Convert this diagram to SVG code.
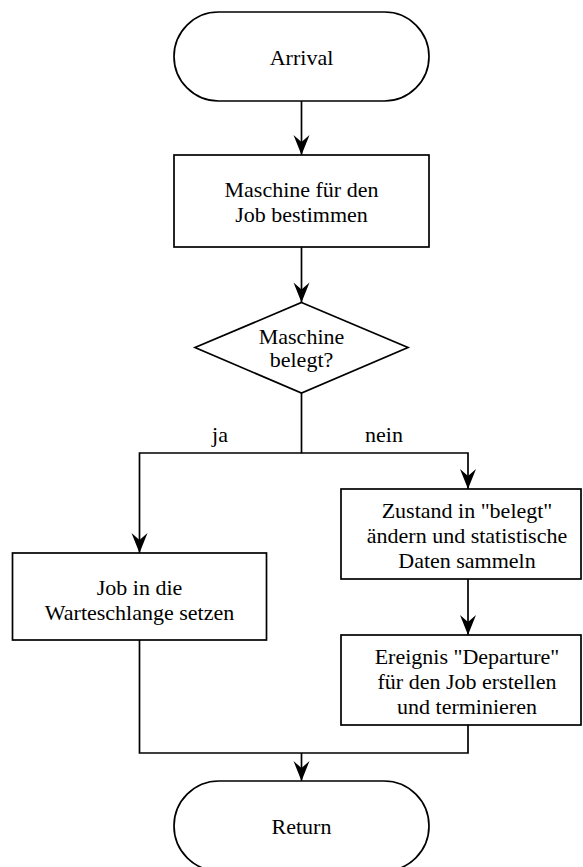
<svg xmlns="http://www.w3.org/2000/svg" width="583" height="867" viewBox="0 0 583 867">
  <style>
    .shape { fill: #ffffff; stroke: #000000; stroke-width: 1.7; }
    .edge { fill: none; stroke: #000000; stroke-width: 1.7; }
    .lbl { font-family: 'Liberation Serif', 'DejaVu Serif', serif; font-size: 22px; fill: #000000; text-anchor: middle; }
  </style>
  <defs>
    <!-- filled, notched arrowhead for all connectors -->
    <marker id="arrow" viewBox="-21 -9 22 18" refX="0" refY="0" markerWidth="22" markerHeight="18" markerUnits="userSpaceOnUse" orient="auto">
      <path d="M0,0 L-20,-8 L-13,0 L-20,8 Z" fill="#000000" stroke="none"/>
    </marker>
  </defs>
  <rect width="583" height="867" fill="#ffffff"/>

  <!-- connectors -->
  <g id="connectors">
    <path class="edge" d="M301.5,101 V155" marker-end="url(#arrow)"/>
    <path class="edge" d="M301.5,247 V302.5" marker-end="url(#arrow)"/>
    <path class="edge" d="M301.5,393 V453 H139.5 V553" marker-end="url(#arrow)"/>
    <path class="edge" d="M301.5,453 H468 V489" marker-end="url(#arrow)"/>
    <path class="edge" d="M468,579 V635" marker-end="url(#arrow)"/>
    <path class="edge" d="M139.5,640 V753 H468 V725"/>
    <path class="edge" d="M301.5,753 V781" marker-end="url(#arrow)"/>
    <g class="lbl" font-family="Liberation Serif, DejaVu Serif, serif">
      <text x="220" y="442">ja</text>
      <text x="384" y="442">nein</text>
    </g>
  </g>

  <g class="lbl" font-family="Liberation Serif, DejaVu Serif, serif">
    <g id="arrival">
      <rect class="shape" x="174" y="12" width="255" height="89" rx="44.5" ry="44.5"/>
      <text x="301.5" y="65">Arrival</text>
    </g>

    <g id="maschine-bestimmen">
      <rect class="shape" x="174" y="155" width="255" height="92"/>
      <text x="301.5" y="197">Maschine für den</text>
      <text x="301.5" y="222">Job bestimmen</text>
    </g>

    <g id="maschine-belegt">
      <polygon class="shape" points="301.5,302.5 408,347.5 301.5,393 195,347.5"/>
      <text x="301.5" y="344">Maschine</text>
      <text x="301.5" y="367">belegt?</text>
    </g>

    <g id="warteschlange">
      <rect class="shape" x="12.5" y="553" width="254" height="87"/>
      <text x="139.5" y="595">Job in die</text>
      <text x="139.5" y="620">Warteschlange setzen</text>
    </g>

    <g id="zustand-aendern">
      <rect class="shape" x="341" y="489" width="240" height="90"/>
      <text x="467" y="518">Zustand in "belegt"</text>
      <text x="467" y="543">ändern und statistische</text>
      <text x="467" y="568">Daten sammeln</text>
    </g>

    <g id="departure-erstellen">
      <rect class="shape" x="341" y="635" width="240" height="90"/>
      <text x="467" y="664">Ereignis "Departure"</text>
      <text x="467" y="689">für den Job erstellen</text>
      <text x="467" y="714">und terminieren</text>
    </g>

    <g id="return">
      <rect class="shape" x="174" y="781" width="255" height="90" rx="45" ry="45"/>
      <text x="301.5" y="834">Return</text>
    </g>
  </g>
</svg>
